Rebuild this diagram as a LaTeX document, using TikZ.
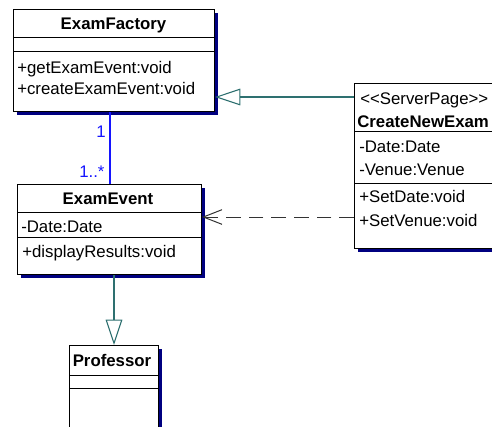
\documentclass[tikz,border=0pt]{standalone}
\usepackage{fontspec}
\setmainfont{Liberation Sans}
\usetikzlibrary{arrows.meta,shadows,calc}

\definecolor{navy}{RGB}{0,0,128}
\definecolor{assocblue}{RGB}{20,20,255}
\definecolor{genteal}{RGB}{46,112,112}

\tikzset{
  classbox/.style={draw,fill=white,line width=0.75pt,inner sep=0,anchor=north west,
    drop shadow={shadow xshift=2.6pt,shadow yshift=-2.6pt,fill=navy,opacity=1}},
  txt/.style={inner sep=0,anchor=base west,font=\fontsize{12.6}{14}\selectfont},
  title/.style={txt,anchor=base,font=\fontsize{12.6}{14}\selectfont\bfseries},
  sep/.style={line width=0.75pt},
  assocline/.style={draw=assocblue,line width=1.5pt},
  genline/.style={draw=genteal,line width=0.8pt,-{Triangle[open,length=19pt,width=12.5pt,fill=white]}},
  depline/.style={draw=black!80,line width=0.75pt,dash pattern=on 11pt off 6pt,-{Straight Barb[length=14pt,width=11pt]}}
}

\begin{document}
\begin{tikzpicture}[x=0.75pt,y=-0.75pt]
  \useasboundingbox (0,0) rectangle (492,426);
  \clip (0,0) rectangle (492,426);

  % class boxes
  \node[classbox,minimum width=150.75pt,minimum height=76.5pt] (fac) at (13,9) {};
  \node[classbox,minimum width=138pt,minimum height=67.5pt] (ev) at (17,184) {};
  \node[classbox,minimum width=66.75pt,minimum height=66pt] (prof) at (69,345) {};
  \node[classbox,minimum width=112.5pt,minimum height=123.75pt] (cne) at (354,83) {};

  % compartments
  \draw[sep] (13,37)--(214,37) (13,51)--(214,51);
  \draw[sep] (17,212)--(201,212) (17,237)--(201,237);
  \draw[sep] (69,375)--(158,375) (69,388)--(158,388);
  \draw[sep] (354,131)--(504,131) (354,183)--(504,183);

  % ExamFactory
  \node[title] (facname) at (113.5,29) {ExamFactory};
  \node[txt] (facop1) at (17,73) {+getExamEvent:void};
  \node[txt] (facop2) at (17,94) {+createExamEvent:void};

  % ExamEvent
  \node[title] (evname) at (108,204) {ExamEvent};
  \node[txt] (evattr) at (21,232) {-Date:Date};
  \node[txt] (evop) at (22,257) {+displayResults:void};

  % Professor
  \node[title] (profname) at (112,366) {Professor};

  % CreateNewExam
  \node[txt] (cnestereo) at (360,104) {<{}<ServerPage>{}>};
  \node[txt,font=\fontsize{12.6}{14}\selectfont\bfseries] (cnename) at (357,127) {CreateNewExam};
  \node[txt] (cneattr1) at (359,152) {-Date:Date};
  \node[txt] (cneattr2) at (359,175) {-Venue:Venue};
  \node[txt] (cneop1) at (359,202) {+SetDate:void};
  \node[txt] (cneop2) at (359,226) {+SetVenue:void};

  % connectors
  \draw[assocline] (ev.north) -- (fac.south -| ev.north);
  \node[txt,text=assocblue] (mult1) at (96,137) {1};
  \node[txt,text=assocblue] (mult2) at (79,177) {1..*};

  \coordinate (gen) at ($(cne.north west)+(0,14)$);
  \draw[genline] (gen) -- (fac.east |- gen);
  \draw[genline] (prof.north |- ev.south) -- (prof.north);

  \coordinate (dep) at ($(cne.north west)+(0,134)$);
  \draw[depline] (dep) -- (ev.east |- dep);
\end{tikzpicture}
\end{document}
